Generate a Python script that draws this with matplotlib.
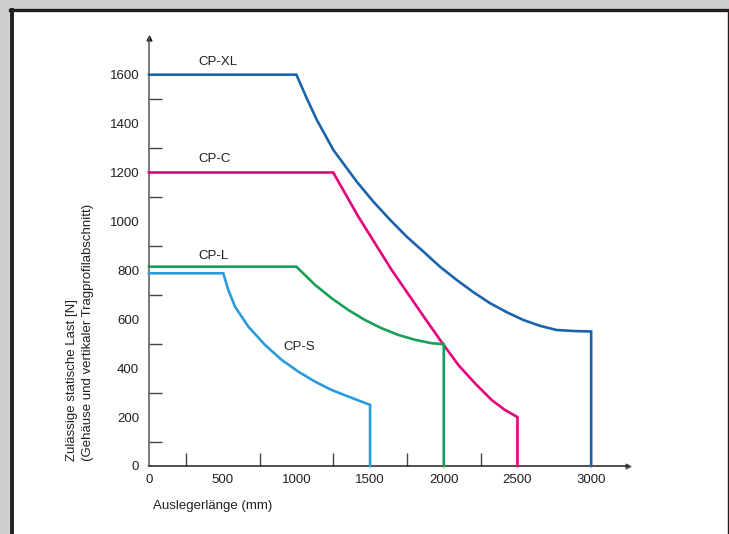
import matplotlib
matplotlib.use("Agg")
import matplotlib.pyplot as plt
from matplotlib.lines import Line2D
from matplotlib.patches import Rectangle

plt.rcParams['font.family'] = ['Liberation Sans', 'DejaVu Sans']

# Data
xl_x = [0, 1000, 1070, 1138, 1250, 1409, 1522, 1635, 1748, 1861, 1974, 2087, 2200,
        2313, 2427, 2540, 2653, 2766, 2879, 3000, 3000]
xl_y = [1600, 1600, 1504, 1416, 1293, 1163, 1081, 1007, 938, 877, 815, 761, 711,
        666, 629, 597, 573, 556, 552, 550, 0]

c_x = [0, 1250, 1420, 1533, 1646, 1759, 1872, 1986, 2099, 2212, 2325, 2415, 2500, 2500]
c_y = [1200, 1200, 1020, 911, 802, 703, 604, 506, 413, 338, 270, 229, 200, 0]

l_x = [0, 1000, 1126, 1239, 1352, 1465, 1579, 1691, 1805, 1918, 2000, 2000]
l_y = [815, 815, 741, 686, 638, 597, 563, 536, 516, 502, 498, 0]

s_x = [0, 504, 538, 583, 674, 787, 900, 1013, 1126, 1239, 1352, 1500, 1500]
s_y = [788, 788, 720, 652, 570, 495, 434, 386, 345, 311, 284, 250, 0]

series_names = ["CP-XL", "CP-C", "CP-L", "CP-S"]
label_pos = [(468, 1653), (448, 1256), (441, 859), (1018, 487)]
colors = ["#1b63ad", "#e6007e", "#16a05b", "#2b9bd8"]

x_major = [0, 500, 1000, 1500, 2000, 2500, 3000]
x_minor = [250, 750, 1250, 1750, 2250]
y_major = [0, 200, 400, 600, 800, 1000, 1200, 1400, 1600]
y_minor = [100, 300, 500, 700, 900, 1100, 1300, 1500]

FS = 9.5
W, H = 729, 534
fig = plt.figure(figsize=(W / 100, H / 100), dpi=100)
fig.patch.set_facecolor("#cfcfcf")

# white panel with dark border
fig.patches.append(Rectangle((10 / W, 0), 1, (534 - 9) / H, transform=fig.transFigure,
                             facecolor="white", edgecolor="none", zorder=-5))
fig.lines.append(Line2D([12 / W, 12 / W], [0, (534 - 9.5) / H], transform=fig.transFigure,
                        color="#231f20", lw=2.8, zorder=-4))
fig.lines.append(Line2D([10 / W, 1], [(534 - 9.5) / H, (534 - 9.5) / H], transform=fig.transFigure,
                        color="#231f20", lw=2.4, zorder=-4))
fig.lines.append(Line2D([727.8 / W, 727.8 / W], [0, (534 - 9.5) / H], transform=fig.transFigure,
                        color="#231f20", lw=1.0, zorder=-4))

ax = fig.add_axes([149 / W, (534 - 466) / H, (628 - 149) / W, (466 - 38) / H])
ax.set_facecolor("none")
ax.set_xlim(0, 3250)
ax.set_ylim(0, 1750)

for xs, ys, col in zip([xl_x, c_x, l_x, s_x], [xl_y, c_y, l_y, s_y], colors):
    ax.plot(xs, ys, color=col, lw=1.9, solid_joinstyle="miter", clip_on=False, zorder=3)

for name, (tx, ty) in zip(series_names, label_pos):
    ax.text(tx, ty, name, ha="center", va="center", fontsize=FS, color="#231f20")

for s in ["top", "right"]:
    ax.spines[s].set_visible(False)
ax.spines["left"].set_color("#555555")
ax.spines["bottom"].set_color("#231f20")
ax.spines["left"].set_linewidth(1.1)
ax.spines["bottom"].set_linewidth(1.1)

ax.set_xticks(x_major)
ax.set_xticklabels([str(v) for v in x_major])
ax.set_xticks(x_minor, minor=True)
ax.set_yticks(y_major)
ax.set_yticklabels([str(v) for v in y_major])
ax.set_yticks(y_minor, minor=True)
ax.tick_params(axis="both", which="major", length=0, labelsize=FS, labelcolor="#231f20")
ax.tick_params(axis="x", which="major", pad=6)
ax.tick_params(axis="y", which="major", pad=7)
ax.tick_params(axis="both", which="minor", direction="in", length=9.5, width=1.0, color="#444444")

# arrowheads
ax.plot([1], [0], marker=">", ms=3.5, color="#555555", transform=ax.transAxes, clip_on=False)
ax.plot([0], [1], marker="^", ms=3.5, color="#231f20", transform=ax.transAxes, clip_on=False)

# axis titles
fig.text(153 / W, (534 - 506) / H, "Auslegerlänge (mm)", ha="left", va="center",
         fontsize=FS, color="#231f20")
fig.text(72 / W, (534 - 461) / H, "Zulässige statische Last [N]", rotation=90,
         ha="center", va="bottom", fontsize=FS, color="#231f20")
fig.text(88 / W, (534 - 461) / H, "(Gehäuse und vertikaler Tragprofilabschnitt)", rotation=90,
         ha="center", va="bottom", fontsize=FS, color="#231f20")

fig.savefig("out.png", dpi=100)
